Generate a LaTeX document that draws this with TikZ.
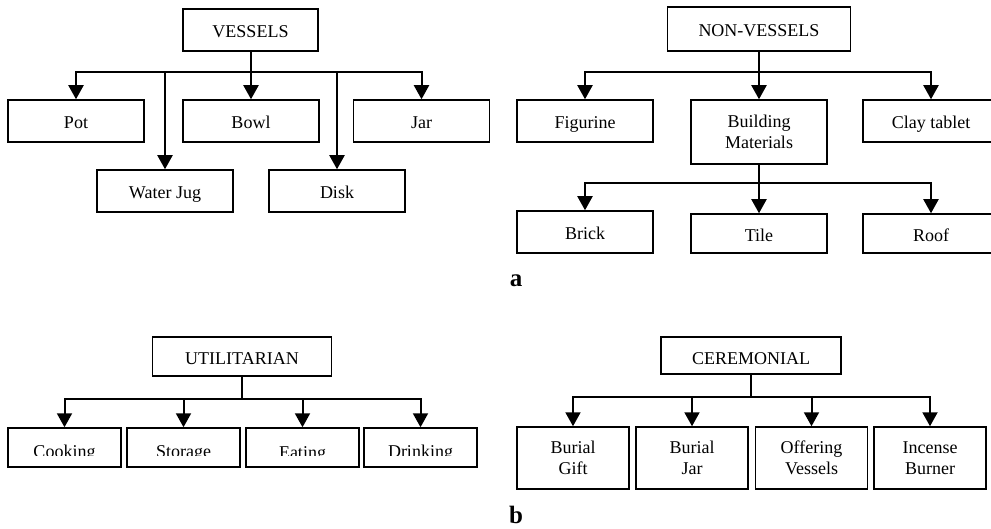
\documentclass[tikz,border=0pt]{standalone}
\usepackage{fontspec}
\setmainfont{Liberation Serif}
\usetikzlibrary{positioning, arrows.meta}

\tikzset{
  frame/.style={draw, line width=1.5pt, inner sep=1pt, align=center, font=\fontsize{18}{21}\selectfont},
  box/.style={frame, minimum width=136pt, minimum height=42pt, text height=16pt, text depth=0pt},
  sbox/.style={frame, minimum width=113pt, minimum height=39pt},
  tbox/.style={frame, minimum width=112pt, minimum height=62pt},
  bar/.style={line width=2pt},
  arr/.style={line width=2pt, -{Triangle[width=15pt,length=14pt]}},
  lbl/.style={font=\fontsize{18}{21}\selectfont, inner sep=0pt},
  tag/.style={font=\fontsize{25}{28}\selectfont\bfseries, inner sep=0pt}
}

\begin{document}
\begin{tikzpicture}[x=1pt, y=-1pt]
    \useasboundingbox (0,0) rectangle (991,529);
    % (a) contenitori
    \node[box, minimum width=135pt, text height=15pt] (ves) at (250.5,30) {VESSELS};
    \node[box] (pot) at (76,121) {Pot};
    \node[box] (bowl) at (251,121) {Bowl};
    \node[box] (jar) at (421.5,121) {Jar};
    \node[box] (jug) at (165,191) {Water Jug};
    \node[box] (disk) at (337,191) {Disk};
    \coordinate (jv) at (250.5,72);
    \draw[bar] (ves.south) -- (jv);
    \draw[arr] (jv) -| (pot.north);
    \draw[arr] (jv) -| (bowl.north);
    \draw[arr] (jv) -| (jar.north);
    \draw[arr] (jv) -| (jug.north);
    \draw[arr] (jv) -| (disk.north);

    % (a) non contenitori
    \node[box, minimum width=183pt, minimum height=44pt, text height=15pt] (nonv) at (759,29) {NON-VESSELS};
    \node[box] (fig) at (585,121) {Figurine};
    \node[frame, minimum width=136pt, minimum height=64pt] (bmat) at (759,132) {Building\\Materials};
    \node[box] (clay) at (931,121) {Clay tablet};
    \coordinate (jn) at (759,72);
    \draw[bar] (nonv.south) -- (jn);
    \draw[arr] (jn) -| (fig.north);
    \draw[arr] (jn) -- (bmat.north);
    \draw[arr] (jn) -| (clay.north);
    \node[box] (brick) at (585,232) {Brick};
    \node[box, minimum height=39pt] (tile) at (759,233.5) {Tile};
    \node[box, minimum height=39pt] (roof) at (931,233.5) {Roof};
    \coordinate (jb) at (759,183);
    \draw[bar] (bmat.south) -- (jb);
    \draw[arr] (jb) -| (brick.north);
    \draw[arr] (jb) -- (tile.north);
    \draw[arr] (jb) -| (roof.north);
    \node[tag] (taga) at (516,280.5) {a};

    % (b) uso quotidiano
    \node[box, minimum width=179pt, minimum height=39pt] (util) at (242,356.5) {UTILITARIAN};
    \node[sbox] (cook) at (64.5,447.5) {};
    \node[sbox] (stor) at (183.5,447.5) {};
    \node[sbox] (eat) at (302.5,447.5) {};
    \node[sbox] (drink) at (420.5,447.5) {};
    \coordinate (ju) at (242,399);
    \draw[bar] (util.south) -- (ju);
    \draw[arr] (ju) -| (cook.north);
    \draw[arr] (ju) -| (stor.north);
    \draw[arr] (ju) -| (eat.north);
    \draw[arr] (ju) -| (drink.north);
    \begin{scope}
      \clip (0,420) rectangle (480,455.5); % testo tagliato
      \node[lbl, anchor=base] (cookt) at (64.5,457) {Cooking};
      \node[lbl, anchor=base] (stort) at (183.5,457) {Storage};
      \node[lbl, anchor=base] (eatt) at (302.5,458.5) {Eating};
      \node[lbl, anchor=base] (drinkt) at (420.5,457) {Drinking};
    \end{scope}

    % (b) cerimoniale
    \node[box, minimum width=180pt, minimum height=37pt, text height=17pt] (cer) at (751,355.5) {CEREMONIAL};
    \node[tbox] (gift) at (573,458) {Burial\\Gift};
    \node[tbox] (bjar) at (692,458) {Burial\\Jar};
    \node[tbox] (offer) at (811.5,458) {Offering\\Vessels};
    \node[tbox] (incense) at (930,458) {Incense\\Burner};
    \coordinate (jc) at (751,397);
    \draw[bar] (cer.south) -- (jc);
    \draw[arr] (jc) -| (gift.north);
    \draw[arr] (jc) -| (bjar.north);
    \draw[arr] (jc) -| (offer.north);
    \draw[arr] (jc) -| (incense.north);
    \node[tag] (tagb) at (516,515) {b};
\end{tikzpicture}
\end{document}
